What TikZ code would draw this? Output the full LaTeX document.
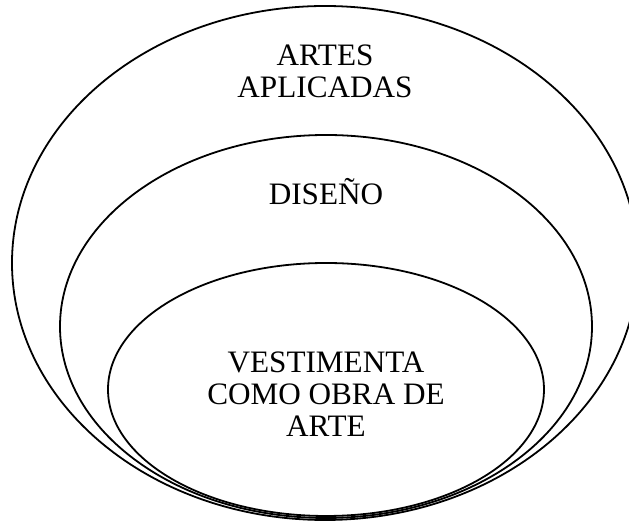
\documentclass[tikz,border=0pt]{standalone}
\usepackage{fontspec}
\setmainfont{Liberation Serif}
\usetikzlibrary{shapes.geometric}
\begin{document}
\begin{tikzpicture}[x=0.5pt, y=-0.5pt]
\tikzstyle{ring}=[draw, ellipse, line width=0.9pt, inner sep=0pt]
\tikzstyle{tx}=[draw=none, fill=none, align=center, font=\fontsize{15.6}{16}\selectfont]
\useasboundingbox (0,0) rectangle (629,523);

\node[ring, minimum width=313pt, minimum height=257pt] (aplicadas) at (325,263) {};
\node[ring, minimum width=266pt, minimum height=191.5pt] (diseno) at (326,326.5) {};
\node[ring, minimum width=218pt, minimum height=126.5pt] (vestimenta) at (326,389.5) {};

\node[tx] (Taplicadas) at (325,71) {ARTES\\APLICADAS};
\node[tx] (Tdiseno) at (326,192) {DISEÑO};
\node[tx] (Tvestimenta) at (326,394) {VESTIMENTA\\COMO OBRA DE\\ARTE};
\end{tikzpicture}
\end{document}
